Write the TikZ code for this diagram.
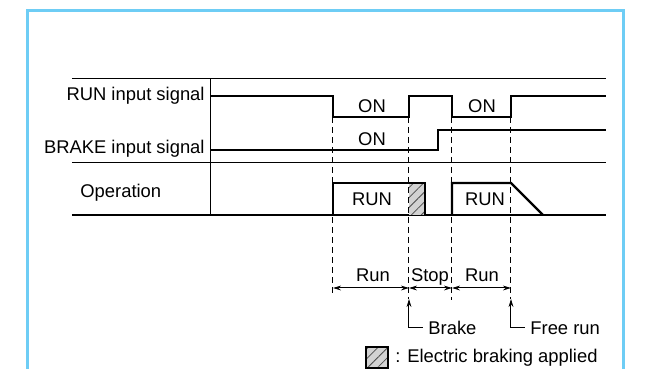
\documentclass[tikz,border=0pt]{standalone}
\usepackage{fontspec}
\setmainfont{Liberation Sans}
\usetikzlibrary{positioning,arrows.meta,patterns.meta}
\definecolor{frameblue}{RGB}{110,205,245}

\begin{document}
\begin{tikzpicture}[x=0.5pt,y=-0.5pt,
  gridline/.style={line width=0.5pt},
  sig/.style={line width=0.8pt},
  opline/.style={line width=1.1pt},
  guide/.style={line width=0.5pt, dash pattern=on 3pt off 2pt},
  dim/.style={{Stealth[length=4pt,width=2.4pt]}-{Stealth[length=4pt,width=2.4pt]}, line width=0.5pt},
  pointer/.style={-{Stealth[length=4pt,width=2.4pt]}, line width=0.5pt},
  lbl/.style={font=\fontsize{9.2}{11}\selectfont, inner sep=0pt},
  hatch/.style={preaction={fill=gray!35}, pattern={Lines[angle=45,distance=3.5pt,line width=0.4pt]}, pattern color=black!70}
]
\useasboundingbox (0,0) rectangle (645,369);
% frame
\draw[frameblue, line width=1.5pt] (28,380) -- (28,11) -- (624,11) -- (624,380);

% table
\draw[gridline] (72,79) -- (606,79);
\draw[gridline] (72,163) -- (606,163);
\draw[gridline] (211,79) -- (211,215);
\draw[line width=1.2pt] (72,215) -- (606,215);

\node[lbl, anchor=base east] (runsig) at (205,101) {RUN input signal};
\node[lbl, anchor=base east] (brksig) at (205,154) {BRAKE input signal};
\node[lbl, anchor=base west] (oper) at (80,198) {Operation};

% signals
\draw[sig] (211,96) -- (333,96) -- (333,117) -- (409,117) -- (409,96) -- (452,96)
  -- (452,117) -- (511,117) -- (511,96) -- (606,96);
\draw[sig] (211,150) -- (438,150) -- (438,130) -- (606,130);
\node[lbl, anchor=base] (on1) at (372,113) {ON};
\node[lbl, anchor=base] (on2) at (482,113) {ON};
\node[lbl, anchor=base] (on3) at (372,146) {ON};

% operation
\path[hatch] (409,183) rectangle (425,215);
\draw[opline] (333,215) -- (333,183) -- (425,183) -- (425,215);
\draw[opline] (452,215) -- (452,183) -- (511,183) -- (543,215);
\node[lbl, anchor=base] (run1) at (372,206) {RUN};
\node[lbl, anchor=base] (run2) at (485,206) {RUN};

% timing guides
\foreach \t/\e in {333/295, 409/299, 452/300, 511/299}
  \draw[guide] (\t,117) -- (\t,\e);

\coordinate (d1) at (333,288);
\coordinate (d2) at (409,288);
\coordinate (d3) at (452,288);
\coordinate (d4) at (511,288);
\draw[dim] (d1) -- (d2);
\draw[dim] (d2) -- (d3);
\draw[dim] (d3) -- (d4);
\node[lbl, anchor=base] (prun1) at (373,282) {Run};
\node[lbl, anchor=base] (pstop) at (430,282) {Stop};
\node[lbl, anchor=base] (prun2) at (482,282) {Run};

% pointers
\node[lbl, anchor=base west] (brake) at (428,335) {Brake};
\node[lbl, anchor=base west] (freerun) at (530,335) {Free run};
\coordinate (bk) at (423,328);
\coordinate (fr) at (525,328);
\draw[pointer] (bk) -- (409,328) -- (409,299);
\draw[pointer] (fr) -- (511,328) -- (511,299);

% legend
\path[hatch] (366,347) rectangle (388,368);
\draw[opline] (366,347) rectangle (388,368);
\node[lbl, anchor=base west] (legend) at (395,363) {: Electric braking applied};
\end{tikzpicture}
\end{document}
